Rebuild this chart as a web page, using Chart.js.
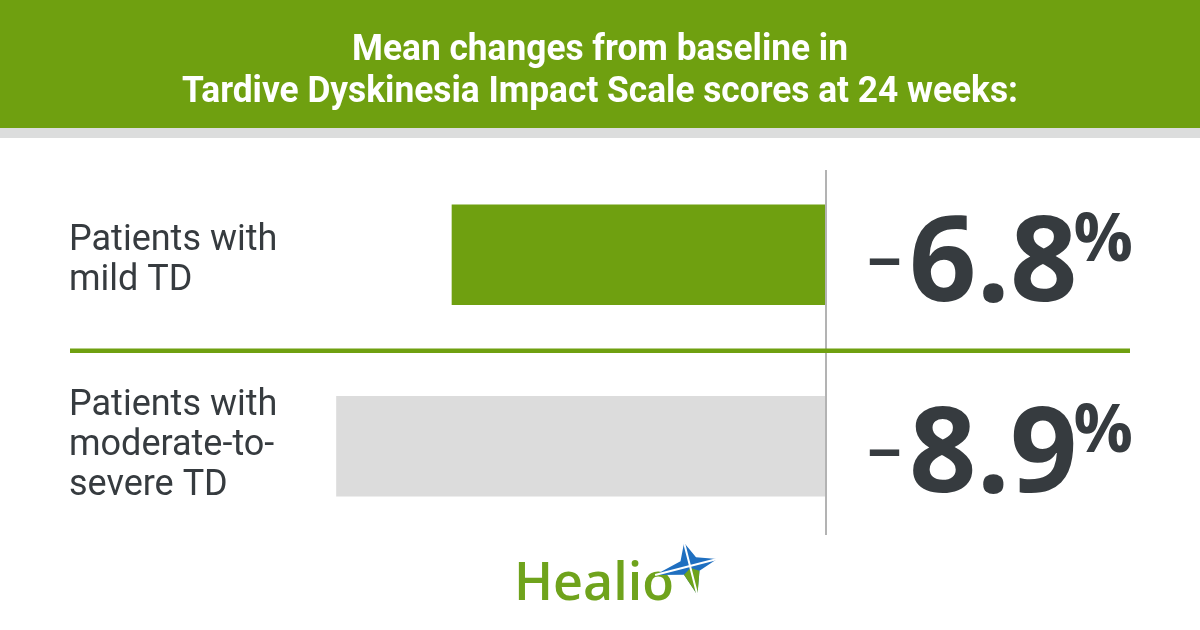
<!DOCTYPE html>
<html>
<head>
<meta charset="utf-8">
<script src="https://cdn.jsdelivr.net/npm/chart.js@4.4.1/dist/chart.umd.min.js"></script>
<style>
  html, body { margin: 0; padding: 0; background: #ffffff; }
  #chart { display: block; }
</style>
</head>
<body>
<canvas id="chart" width="1200" height="630"></canvas>
<script>
var titleLines = ["Mean changes from baseline in", "Tardive Dyskinesia Impact Scale scores at 24 weeks:"];
var categories = [["Patients with", "mild TD"], ["Patients with", "moderate-to-", "severe TD"]];
var changeValues = [-6.8, -8.9];
var valueTexts = ["6.8", "8.9"];
var barColors = ["#6fa010", "#dcdcdc"];

var green = "#6fa010";
var darkText = "#363b3f";

function drawStar(ctx, cx, cy) {
	// simple four point star for the logo mark
	ctx.save();
	ctx.translate(cx, cy);
	ctx.rotate(-0.25);
	var pts = [[0, -24], [8, -7], [28, 0], [8, 7], [0, 30], [-8, 7], [-36, 0], [-8, -7]];
	ctx.beginPath();
	ctx.moveTo(pts[0][0], pts[0][1]);
	for (var i = 1; i < pts.length; i++) ctx.lineTo(pts[i][0], pts[i][1]);
	ctx.closePath();
	ctx.fillStyle = "#1f6fc0";
	ctx.fill();
	ctx.beginPath();
	ctx.moveTo(-8, 7);
	ctx.lineTo(0, 30);
	ctx.lineTo(8, 7);
	ctx.lineTo(0, 2);
	ctx.closePath();
	ctx.fillStyle = "#6fa31c";
	ctx.fill();
	ctx.strokeStyle = "#ffffff";
	ctx.lineWidth = 2;
	ctx.beginPath();
	ctx.moveTo(-36, 0); ctx.lineTo(28, 0);
	ctx.moveTo(0, -24); ctx.lineTo(0, 30);
	ctx.stroke();
	ctx.restore();
}

var decorPlugin = {
	id: "decor",
	beforeDraw: function(chart) {
		var ctx = chart.ctx;
		ctx.save();
		ctx.fillStyle = "#ffffff";
		ctx.fillRect(0, 0, chart.width, chart.height);
		ctx.fillStyle = green;
		ctx.fillRect(0, 0, chart.width, 128);
		ctx.fillStyle = "#dcdddd";
		ctx.fillRect(0, 128, chart.width, 10);
		// title, squeezed to look condensed
		ctx.fillStyle = "#ffffff";
		ctx.font = "bold 37px Roboto";
		ctx.textAlign = "center";
		ctx.textBaseline = "alphabetic";
		var squeeze = 836 / ctx.measureText(titleLines[1]).width;
		ctx.translate(chart.width / 2, 0);
		ctx.scale(squeeze, 1);
		ctx.fillText(titleLines[0], 0, 60);
		ctx.fillText(titleLines[1], 0, 102);
		ctx.restore();
	},
	afterDatasetsDraw: function(chart) {
		var ctx = chart.ctx;
		var xScale = chart.scales.x;
		var yScale = chart.scales.y;
		var zeroX = xScale.getPixelForValue(0);
		ctx.save();

		// zero line
		ctx.strokeStyle = "#b3b3b3";
		ctx.lineWidth = 2;
		ctx.beginPath();
		ctx.moveTo(zeroX, 170);
		ctx.lineTo(zeroX, 535);
		ctx.stroke();

		// separator between the two rows
		var midY = (yScale.getPixelForValue(0) + yScale.getPixelForValue(1)) / 2;
		ctx.fillStyle = green;
		ctx.fillRect(70, midY - 2, 1060, 4.5);

		// category labels
		ctx.fillStyle = darkText;
		ctx.font = "36px Roboto";
		ctx.textAlign = "left";
		ctx.textBaseline = "middle";
		categories.forEach(function(lines, i) {
			var cy = yScale.getPixelForValue(i);
			var top = cy - (lines.length - 1) * 40 / 2 + (lines.length === 2 ? 6 : 0);
			lines.forEach(function(line, j) {
				ctx.fillText(line, 69, top + j * 40);
			});
		});

		// value labels
		ctx.textBaseline = "alphabetic";
		valueTexts.forEach(function(txt, i) {
			var base = yScale.getPixelForValue(i) + 46;
			var x = zeroX + 41;
			ctx.fillStyle = darkText;
			ctx.font = "600 70px 'Open Sans'";
			ctx.fillText("\u2013", x, base - 20);
			x += ctx.measureText("\u2013").width + 7;
			ctx.font = "bold 118px 'Open Sans'";
			ctx.fillText(txt, x, base);
			x += ctx.measureText(txt).width;
			ctx.font = "bold 66px 'Open Sans'";
			ctx.fillText("%", x - 4, base - 40);
		});

		// Healio logo
		ctx.fillStyle = "#6fa31c";
		ctx.font = "600 52px 'Open Sans'";
		ctx.textAlign = "left";
		ctx.fillText("Healio", 514, 600);
		drawStar(ctx, 690, 566);
		ctx.restore();
	}
};

new Chart(document.getElementById("chart"), {
	type: "bar",
	data: {
		labels: categories,
		datasets: [{
			data: changeValues,
			backgroundColor: barColors,
			borderWidth: 0,
			barThickness: 100
		}]
	},
	options: {
		indexAxis: "y",
		responsive: false,
		animation: false,
		layout: { padding: { top: 159, bottom: 88, left: 276, right: 374 } },
		plugins: {
			legend: { display: false },
			tooltip: { enabled: false }
		},
		scales: {
			x: { min: -10, max: 0, display: false },
			y: { display: false }
		}
	},
	plugins: [decorPlugin]
});
</script>
</body>
</html>
